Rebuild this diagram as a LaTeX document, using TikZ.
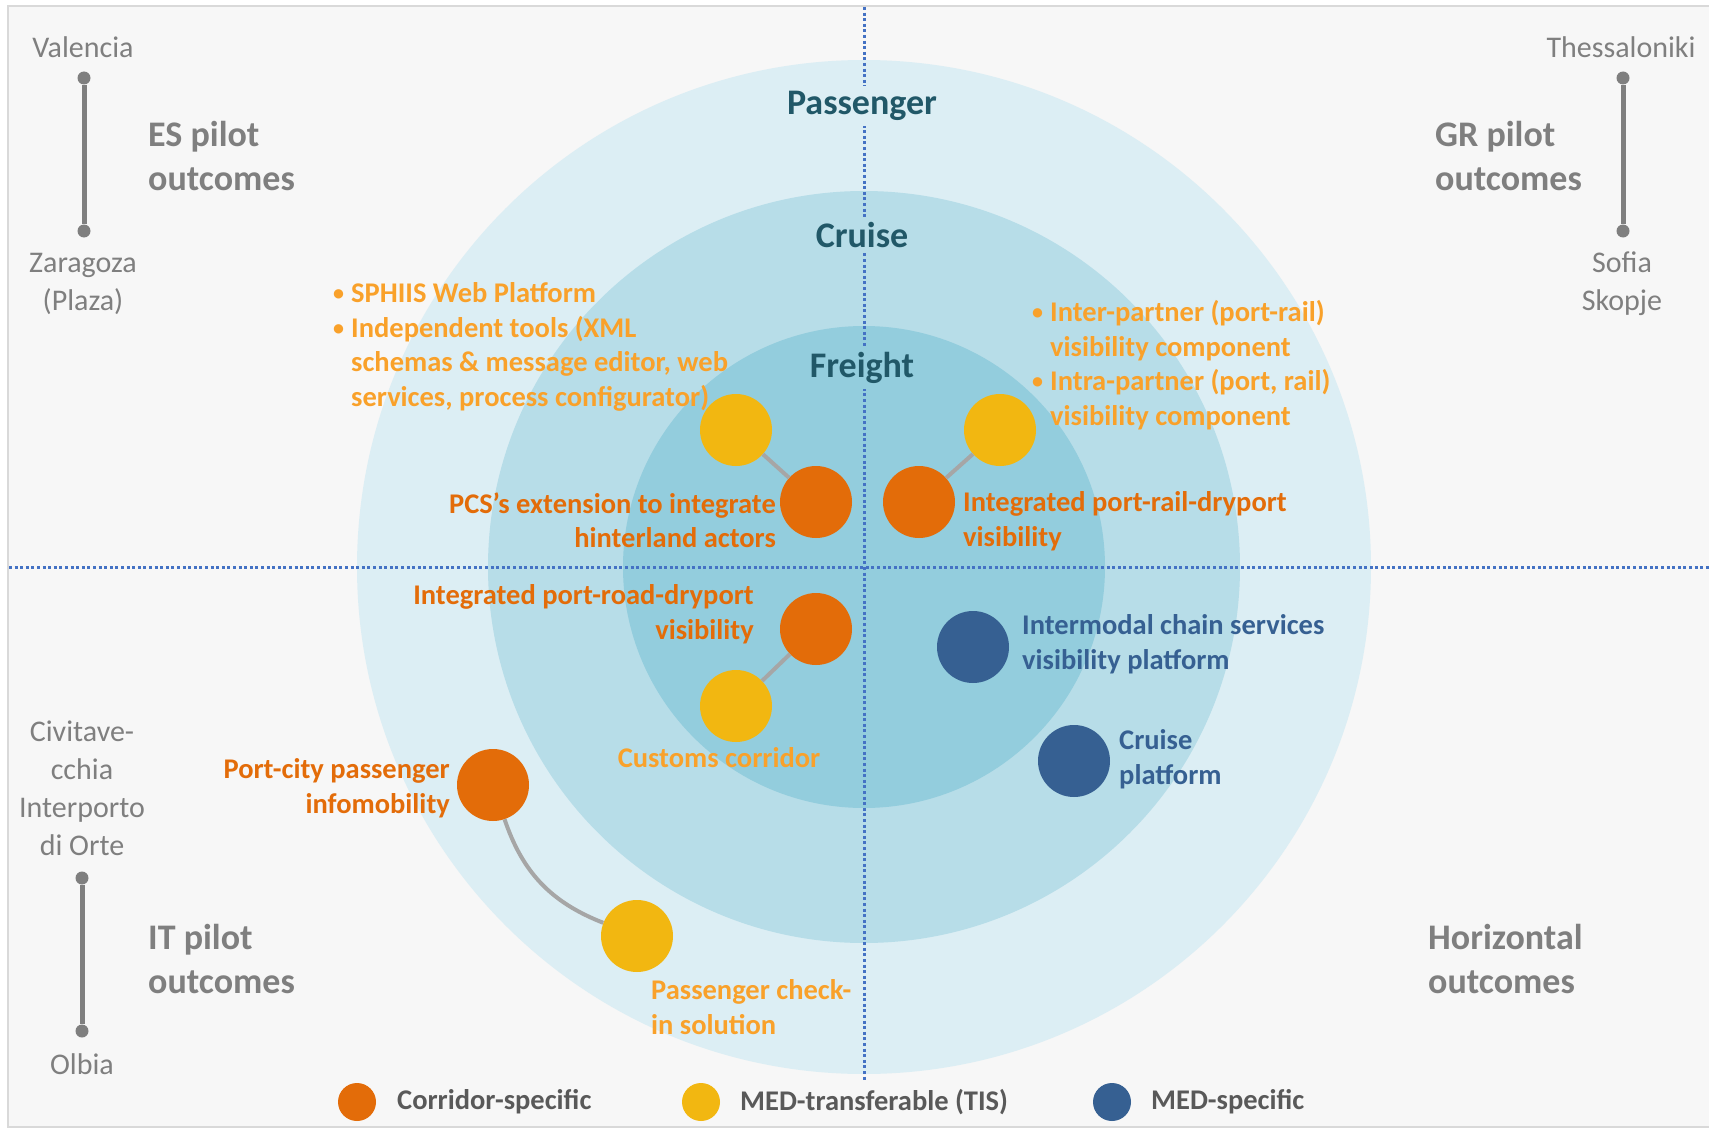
\documentclass[tikz,border=0pt]{standalone}
\usepackage{fontspec}
\setmainfont{Carlito}
\definecolor{bgfill}{HTML}{F7F7F7}
\definecolor{frame}{HTML}{D9D9D9}
\definecolor{ringa}{HTML}{DCEEF4}
\definecolor{ringb}{HTML}{B7DDE8}
\definecolor{ringc}{HTML}{93CDDD}
\definecolor{corr}{HTML}{E36C09}
\definecolor{tis}{HTML}{F2B711}
\definecolor{tistxt}{HTML}{F9A12A}
\definecolor{med}{HTML}{366092}
\definecolor{ringtxt}{HTML}{215868}
\definecolor{axis}{HTML}{4472C4}
\definecolor{pingray}{HTML}{7F7F7F}
\definecolor{link}{HTML}{A6A6A6}
\definecolor{legtxt}{HTML}{595959}
\newcommand{\bul}{\makebox[18pt][l]{\fontsize{22}{22}\selectfont\raisebox{2pt}{\textbullet}}}
\newcommand{\ind}{\hspace*{18pt}}

\begin{document}
\begin{tikzpicture}[x=1pt, y=-1pt,
    ball/.style={circle, minimum size=72pt, inner sep=0pt},
    legball/.style={circle, minimum size=38pt, inner sep=0pt},
    pinend/.style={circle, fill=pingray, minimum size=13pt, inner sep=0pt},
    lbl/.style={font=\fontsize{28.5}{34.5}\selectfont\bfseries, inner sep=0pt},
    city/.style={font=\fontsize{30}{38}\selectfont, text=pingray, align=center, inner sep=0pt},
    group/.style={font=\fontsize{36}{44}\selectfont\bfseries, text=pingray, align=left, anchor=west, inner sep=0pt},
    ring/.style={font=\fontsize{36}{44}\selectfont\bfseries, text=ringtxt, inner sep=5pt}]
  \useasboundingbox (0,0) rectangle (1709,1129);
  \draw[frame, fill=bgfill, line width=2pt] (8,6) rectangle (1714,1127);

  \fill[ringa] (864,567) circle (507);
  \fill[ringb] (864,567) circle (376);
  \fill[ringc] (864,567) circle (241);

  \draw[axis, line width=3pt, dash pattern=on 3pt off 2.6pt] (864,7) -- (864,1080);
  \draw[axis, line width=3pt, dash pattern=on 3pt off 2.6pt] (9,567) -- (1709,567);

  \node[ring, fill=ringa] (pas) at (862,106) {Passenger};
  \node[ring, fill=ringb] (cru) at (862,235) {Cruise};
  \node[ring, fill=ringc] (fre) at (862,368) {Freight};

  % pilots
  \node[city] (val) at (83,47) {Valencia};
  \node[city] (zar) at (83,284) {Zaragoza\\(Plaza)};
  \node[city] (the) at (1621,47) {Thessaloniki};
  \node[city] (sof) at (1622,284) {Sofia\\Skopje};
  \node[city] (civ) at (82,788) {Civitave-\\cchia\\Interporto\\di Orte};
  \node[city] (olb) at (82,1064) {Olbia};

  \node[pinend] (p1) at (84,78) {};
  \node[pinend] (p2) at (84,231) {};
  \node[pinend] (p3) at (1623,78) {};
  \node[pinend] (p4) at (1623,231) {};
  \node[pinend] (p5) at (82,878) {};
  \node[pinend] (p6) at (82,1031) {};
  \foreach \i/\j in {p1/p2, p3/p4, p5/p6} {
    \draw[pingray, line width=5pt] (\i) -- (\j);
  }

  \node[group] (es) at (148,156) {ES pilot\\outcomes};
  \node[group] (gr) at (1435,156) {GR pilot\\outcomes};
  \node[group] (it) at (148,959) {IT pilot\\outcomes};
  \node[group] (hor) at (1428,959) {Horizontal\\outcomes};

  % outcomes
  \node[ball, fill=tis] (y1) at (736,430) {};
  \node[ball, fill=corr] (o1) at (816,502) {};
  \node[ball, fill=corr] (o2) at (919,502) {};
  \node[ball, fill=tis] (y2) at (1000,430) {};
  \node[ball, fill=corr] (o3) at (816,629) {};
  \node[ball, fill=tis] (y3) at (736,706) {};
  \node[ball, fill=med] (b1) at (973,647) {};
  \node[ball, fill=med] (b2) at (1074,761) {};
  \node[ball, fill=corr] (o4) at (493,785) {};
  \node[ball, fill=tis] (y4) at (637,936) {};

  \foreach \i/\j in {y1/o1, y2/o2, o3/y3} {
    \draw[link, line width=4pt] (\i) -- (\j);
  }
  \draw[link, line width=4pt] (o4) to[bend right=25] (y4);

  \node[lbl, text=tistxt, align=left, anchor=west] (t1) at (333,347)
    {\bul SPHIIS Web Platform\\\bul Independent tools (XML\\\ind schemas \& message editor, web\\\ind services, process configurator)};
  \node[lbl, text=tistxt, align=left, anchor=west] (t2) at (1032,365)
    {\bul Inter-partner (port-rail)\\\ind visibility component\\\bul Intra-partner (port, rail)\\\ind visibility component};
  \node[lbl, text=corr, align=right, anchor=east] (t3) at (776,520) {PCS’s extension to integrate\\hinterland actors};
  \node[lbl, text=corr, align=left, anchor=west] (t4) at (963,521) {Integrated port-rail-dryport\\visibility};
  \node[lbl, text=corr, align=right, anchor=east] (t5) at (754,614) {Integrated port-road-dryport\\visibility};
  \node[lbl, text=tistxt] (t6) at (719,758) {Customs corridor};
  \node[lbl, text=med, align=left, anchor=west] (t7) at (1022,644) {Intermodal chain services\\visibility platform};
  \node[lbl, text=med, align=left, anchor=west] (t8) at (1119,759) {Cruise\\platform};
  \node[lbl, text=corr, align=right, anchor=east] (t9) at (450,788) {Port-city passenger\\infomobility};
  \node[lbl, text=tistxt, align=left, anchor=west] (t10) at (651,1007) {Passenger check-\\in solution};

  % legend
  \node[legball, fill=corr] (lc) at (357,1102) {};
  \node[legball, fill=tis] (lt) at (701,1102) {};
  \node[legball, fill=med] (lm) at (1112,1102) {};
  \node[lbl, text=legtxt, anchor=west] at (397,1102) {Corridor-specific};
  \node[lbl, text=legtxt, anchor=west] at (740,1102) {MED-transferable (TIS)};
  \node[lbl, text=legtxt, anchor=west] at (1151,1102) {MED-specific};
\end{tikzpicture}
\end{document}
